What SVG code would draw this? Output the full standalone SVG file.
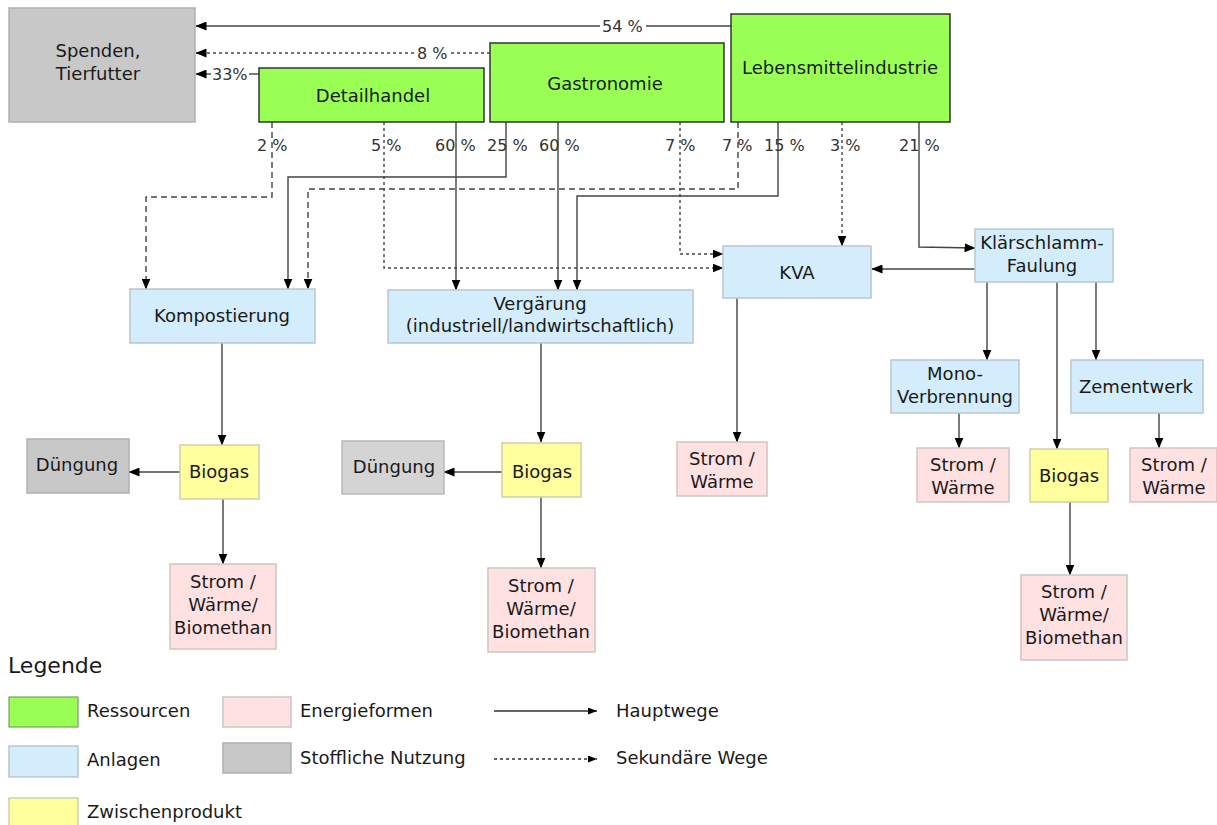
<svg xmlns="http://www.w3.org/2000/svg" width="1217" height="825" viewBox="0 0 1217 825">
<defs>
<marker id="ah" markerWidth="11" markerHeight="9" refX="10.5" refY="4.5" orient="auto" markerUnits="userSpaceOnUse">
<path d="M0,0 L11,4.5 L0,9 z" fill="#000"/>
</marker>
<marker id="ahs" markerWidth="9" markerHeight="7" refX="9" refY="3.5" orient="auto" markerUnits="userSpaceOnUse">
<path d="M0,0 L9,3.5 L0,7 z" fill="#000"/>
</marker>
</defs>
<style>
text{font-family:"DejaVu Sans","Liberation Sans",sans-serif;fill:#1a1a1a}
.t18{font-size:18px}
.pc{font-size:16px;fill:#333}
.c{text-anchor:middle}
.res{fill:#99ff55;stroke:#333;stroke-width:1.5}
.anl{fill:#d3edfc;stroke:#b9c6cf;stroke-width:1.5}
.zw{fill:#ffff9e;stroke:#cfcfa8;stroke-width:1.5}
.en{fill:#ffe1e2;stroke:#cfc4c4;stroke-width:1.5}
.st{fill:#c8c8c8;stroke:#b0b0b0;stroke-width:1.5}
.st2{fill:#d4d4d4;stroke:#b8b8b8;stroke-width:1.5}
.ln{fill:none;stroke:#444;stroke-width:1.4}
.arr{marker-end:url(#ah)}
.dash{stroke-dasharray:6,4}
.dot{stroke-dasharray:3,3}
</style>

<g id="connectors">
<!-- top to Spenden -->
<path class="ln" d="M731,26 H646"/>
<path class="ln arr" d="M600,26 H196"/>
<path class="ln dot" d="M490,53 H451"/>
<path class="ln dot arr" d="M414,53 H196"/>
<path class="ln" d="M259,74 H249"/>
<path class="ln arr" d="M211,74 H196"/>
<!-- Detailhandel -->
<path class="ln dash arr" d="M272,122 V197 H146 V289"/>
<path class="ln dot arr" d="M384,122 V268 H723"/>
<path class="ln arr" d="M456,122 V290"/>
<!-- Gastronomie -->
<path class="ln arr" d="M506,122 V177 H288 V289"/>
<path class="ln arr" d="M558,122 V290"/>
<path class="ln dot arr" d="M680,122 V254 H723"/>
<!-- Lebensmittelindustrie -->
<path class="ln dash arr" d="M738,122 V189 H308 V289"/>
<path class="ln arr" d="M778,122 V196 H577 V290"/>
<path class="ln dot arr" d="M842,122 V246"/>
<path class="ln arr" d="M919,122 V247 L975,248"/>
<!-- Klärschlamm -->
<path class="ln arr" d="M975,269 H872"/>
<path class="ln arr" d="M987,282 V360"/>
<path class="ln arr" d="M1057,282 V449"/>
<path class="ln arr" d="M1096,282 V360"/>
<path class="ln arr" d="M959,413 V448"/>
<path class="ln arr" d="M1159,413 V448"/>
<path class="ln arr" d="M1070,502 V575"/>
<!-- KVA -->
<path class="ln arr" d="M737,298 V442"/>
<!-- Kompostierung -->
<path class="ln arr" d="M222,343 V445"/>
<path class="ln arr" d="M180,472 H129"/>
<path class="ln arr" d="M223,499 V564"/>
<!-- Vergärung -->
<path class="ln arr" d="M541,343 V442"/>
<path class="ln arr" d="M502,472 H444"/>
<path class="ln arr" d="M541,497 V568"/>
</g>

<g id="labels">
<text class="pc" x="602" y="32">54 %</text>
<text class="pc" x="417" y="59">8 %</text>
<text class="pc" x="212" y="80">33%</text>
<text class="pc" x="257" y="151">2 %</text>
<text class="pc" x="371" y="151">5 %</text>
<text class="pc" x="435" y="151">60 %</text>
<text class="pc" x="487" y="151">25 %</text>
<text class="pc" x="539" y="151">60 %</text>
<text class="pc" x="665" y="151">7 %</text>
<text class="pc" x="722" y="151">7 %</text>
<text class="pc" x="764" y="151">15 %</text>
<text class="pc" x="830" y="151">3 %</text>
<text class="pc" x="899" y="151">21 %</text>
</g>

<g id="spenden">
<rect class="st" x="9" y="8" width="186" height="114"/>
<text class="t18 c" x="98" y="57">Spenden,</text>
<text class="t18 c" x="98" y="80">Tierfutter</text>
</g>
<g id="detailhandel">
<rect class="res" x="259" y="68" width="225" height="54"/>
<text class="t18 c" x="373" y="102">Detailhandel</text>
</g>
<g id="gastronomie">
<rect class="res" x="490" y="43" width="234" height="79"/>
<text class="t18 c" x="605" y="90">Gastronomie</text>
</g>
<g id="lebensmittelindustrie">
<rect class="res" x="731" y="14" width="219" height="108"/>
<text class="t18 c" x="840" y="74">Lebensmittelindustrie</text>
</g>

<g id="kompostierung">
<rect class="anl" x="130" y="289" width="185" height="54"/>
<text class="t18 c" x="222" y="322">Kompostierung</text>
</g>
<g id="vergaerung">
<rect class="anl" x="388" y="290" width="305" height="53"/>
<text class="t18 c" x="540" y="310">Vergärung</text>
<text class="t18 c" x="540" y="332">(industriell/landwirtschaftlich)</text>
</g>
<g id="kva">
<rect class="anl" x="723" y="246" width="148" height="52"/>
<text class="t18 c" x="797" y="279">KVA</text>
</g>
<g id="klaerschlamm">
<rect class="anl" x="975" y="229" width="138" height="53"/>
<text class="t18 c" x="1042" y="249">Klärschlamm-</text>
<text class="t18 c" x="1042" y="272">Faulung</text>
</g>
<g id="mono">
<rect class="anl" x="891" y="360" width="128" height="53"/>
<text class="t18 c" x="955" y="380">Mono-</text>
<text class="t18 c" x="955" y="403">Verbrennung</text>
</g>
<g id="zementwerk">
<rect class="anl" x="1071" y="360" width="132" height="53"/>
<text class="t18 c" x="1136" y="393">Zementwerk</text>
</g>

<g id="strom-kva">
<rect class="en" x="677" y="442" width="90" height="54"/>
<text class="t18 c" x="722" y="465">Strom /</text>
<text class="t18 c" x="722" y="488">Wärme</text>
</g>
<g id="strom-mono">
<rect class="en" x="917" y="448" width="92" height="54"/>
<text class="t18 c" x="963" y="471">Strom /</text>
<text class="t18 c" x="963" y="494">Wärme</text>
</g>
<g id="biogas-r">
<rect class="zw" x="1030" y="449" width="78" height="53"/>
<text class="t18 c" x="1069" y="482">Biogas</text>
</g>
<g id="strom-zement">
<rect class="en" x="1130" y="448" width="87" height="54"/>
<text class="t18 c" x="1174" y="471">Strom /</text>
<text class="t18 c" x="1174" y="494">Wärme</text>
</g>
<g id="strom-bio-r">
<rect class="en" x="1021" y="575" width="106" height="85"/>
<text class="t18 c" x="1074" y="598">Strom /</text>
<text class="t18 c" x="1074" y="621">Wärme/</text>
<text class="t18 c" x="1074" y="644">Biomethan</text>
</g>

<g id="duengung-l">
<rect class="st" x="27" y="439" width="102" height="54"/>
<text class="t18 c" x="77" y="471">Düngung</text>
</g>
<g id="biogas-l">
<rect class="zw" x="180" y="445" width="79" height="54"/>
<text class="t18 c" x="219" y="478">Biogas</text>
</g>
<g id="strom-bio-l">
<rect class="en" x="170" y="564" width="106" height="85"/>
<text class="t18 c" x="223" y="588">Strom /</text>
<text class="t18 c" x="223" y="611">Wärme/</text>
<text class="t18 c" x="223" y="634">Biomethan</text>
</g>
<g id="duengung-m">
<rect class="st2" x="342" y="441" width="102" height="53"/>
<text class="t18 c" x="394" y="473">Düngung</text>
</g>
<g id="biogas-m">
<rect class="zw" x="502" y="443" width="79" height="54"/>
<text class="t18 c" x="542" y="478">Biogas</text>
</g>
<g id="strom-bio-m">
<rect class="en" x="488" y="568" width="107" height="84"/>
<text class="t18 c" x="541" y="592">Strom /</text>
<text class="t18 c" x="541" y="615">Wärme/</text>
<text class="t18 c" x="541" y="638">Biomethan</text>
</g>

<g id="legend">
<text x="8" y="673" style="font-size:22px">Legende</text>
<rect class="res" x="9" y="697" width="69" height="30" style="stroke:#6a8a5a;stroke-width:1"/>
<text class="t18" x="87" y="717">Ressourcen</text>
<rect class="anl" x="9" y="746" width="69" height="31"/>
<text class="t18" x="87" y="766">Anlagen</text>
<rect class="zw" x="9" y="798" width="69" height="30"/>
<text class="t18" x="87" y="818">Zwischenprodukt</text>
<rect class="en" x="223" y="697" width="68" height="30"/>
<text class="t18" x="300" y="717">Energieformen</text>
<rect class="st" x="223" y="743" width="68" height="30"/>
<text class="t18" x="300" y="764">Stoffliche Nutzung</text>
<path d="M494,711 H597" fill="none" stroke="#333" stroke-width="1.4" marker-end="url(#ahs)"/>
<text class="t18" x="616" y="717">Hauptwege</text>
<path d="M494,759 H597" fill="none" stroke="#333" stroke-width="1.4" stroke-dasharray="3,3" marker-end="url(#ahs)"/>
<text class="t18" x="616" y="764">Sekundäre Wege</text>
</g>
</svg>
